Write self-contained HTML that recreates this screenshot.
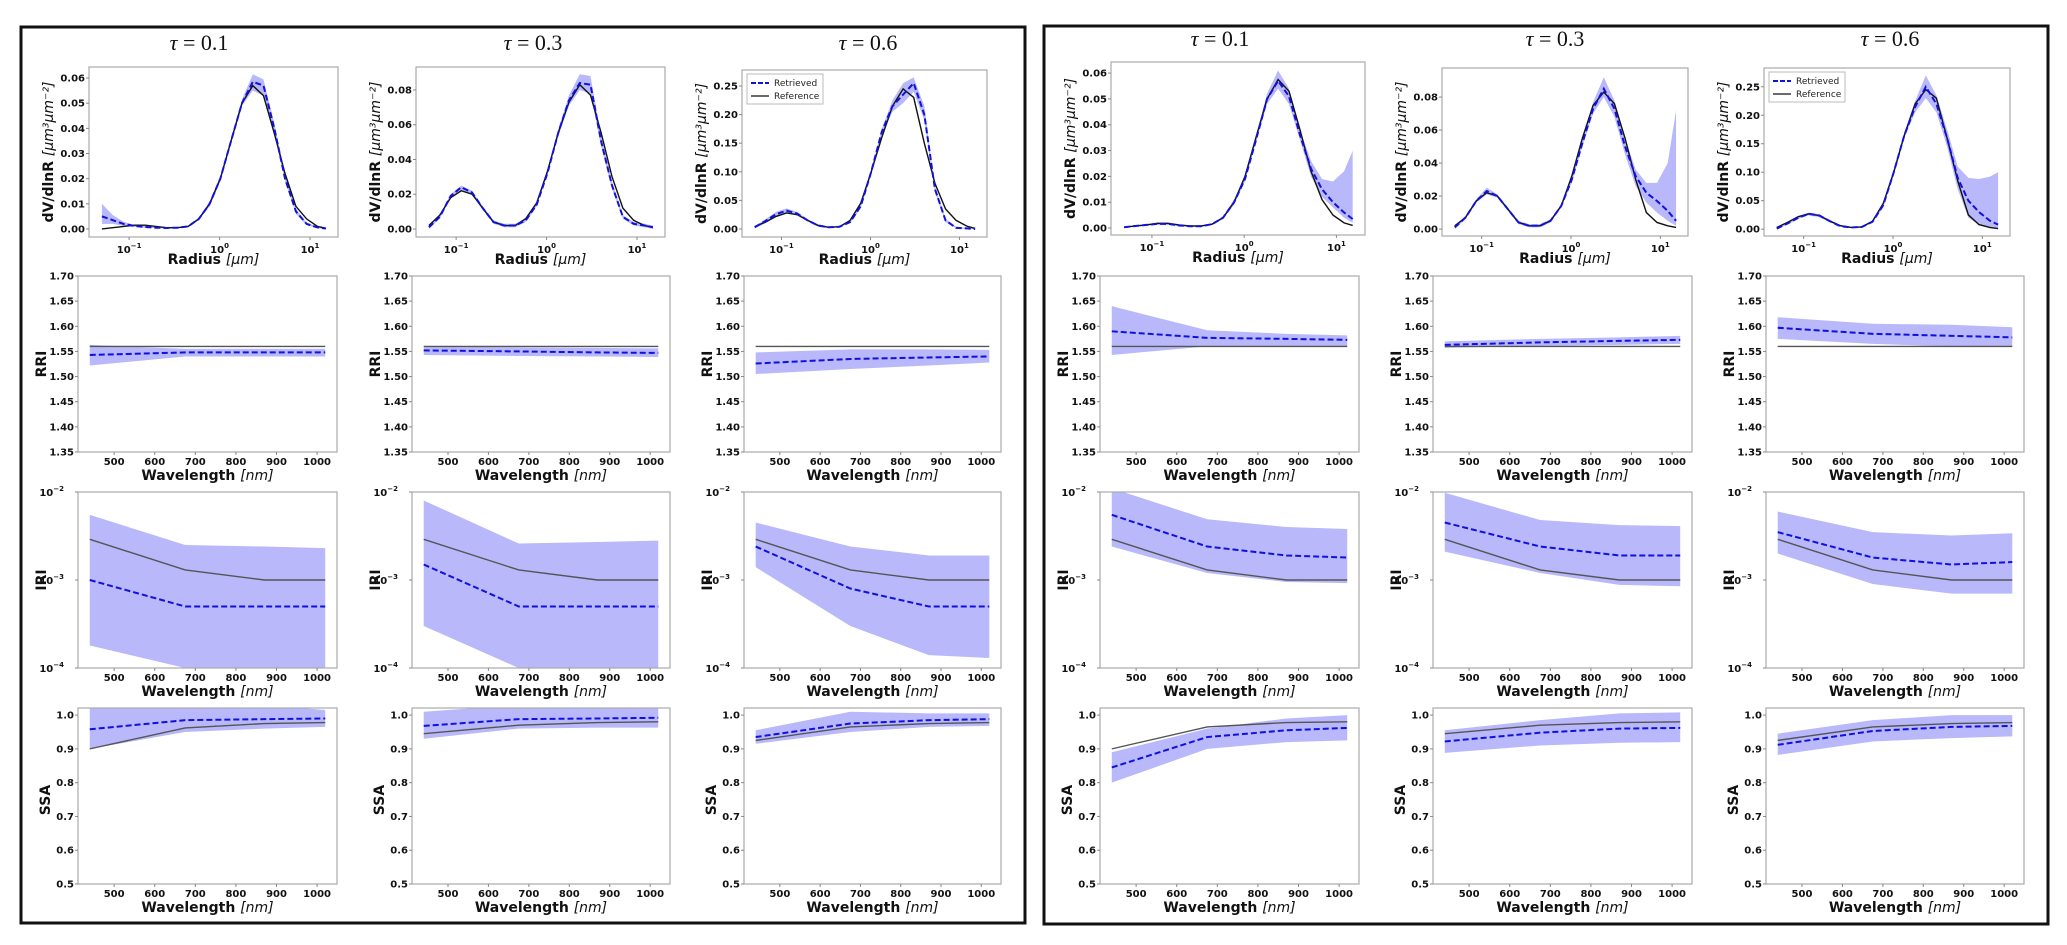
<!DOCTYPE html>
<html><head><meta charset="utf-8"><style>
html,body{margin:0;padding:0;background:#fff;}
svg{display:block;font-family:"DejaVu Sans","Liberation Sans",sans-serif;}
.tk{font-size:10px;font-weight:bold;fill:#111;}
.xl{font-size:14px;font-weight:bold;fill:#111;}
.yl{font-size:14px;font-weight:bold;fill:#111;}
.tt{font-family:"Liberation Serif",serif;font-size:22px;fill:#111;}
</style></head><body>
<svg id="fig" width="2067" height="945" viewBox="0 0 2067 945" xmlns="http://www.w3.org/2000/svg">
<rect x="0" y="0" width="2067" height="945" fill="#fff"/>
<rect x="21" y="27" width="1004" height="896" fill="none" stroke="#111" stroke-width="3"/>
<rect x="1044" y="26" width="1004" height="898" fill="none" stroke="#111" stroke-width="3"/>
</svg>
<script>
const radius=[0.050,0.066,0.087,0.114,0.150,0.197,0.259,0.341,0.449,0.590,0.777,1.02,1.34,1.77,2.33,3.06,4.03,5.30,6.98,9.18,12.1,15.0];
const wavelength=[440,675,870,1020];
const tauLabels=["0.1","0.3","0.6"];
const rriTicks=[1.35,1.40,1.45,1.50,1.55,1.60,1.65,1.70];
const ssaTicks=[0.5,0.6,0.7,0.8,0.9,1.0];
const wlTicks=[500,600,700,800,900,1000];

const psdRefL1=[0.000,0.0005,0.0010,0.0015,0.0015,0.0010,0.0005,0.0005,0.0010,0.0040,0.0100,0.0200,0.0350,0.0500,0.0570,0.0530,0.0380,0.0220,0.0090,0.0040,0.0010,0.0003];
const psdRetL1=[0.005,0.0035,0.0020,0.0012,0.0008,0.0005,0.0004,0.0005,0.0010,0.0040,0.0100,0.0200,0.0350,0.0500,0.0585,0.0570,0.0400,0.0200,0.0070,0.0020,0.0006,0.0002];
const psdLoL1=[0.002,0.002,0.0012,0.0008,0.0005,0.0003,0.0002,0.0003,0.0008,0.0035,0.0090,0.0190,0.0340,0.0490,0.0550,0.0530,0.0380,0.0190,0.0060,0.0015,0.0003,0.0000];
const psdHiL1=[0.010,0.0055,0.0028,0.0016,0.0011,0.0007,0.0006,0.0007,0.0013,0.0045,0.0110,0.0210,0.0360,0.0515,0.0615,0.0595,0.0420,0.0215,0.0080,0.0025,0.0009,0.0004];

const psdRefL2=[0.002,0.008,0.018,0.022,0.020,0.012,0.004,0.002,0.002,0.006,0.015,0.033,0.055,0.073,0.083,0.077,0.055,0.030,0.012,0.005,0.002,0.001];
const psdRetL2=[0.001,0.007,0.019,0.024,0.021,0.012,0.004,0.002,0.002,0.005,0.014,0.032,0.055,0.074,0.084,0.083,0.050,0.025,0.007,0.003,0.002,0.001];
const psdLoL2=[0.000,0.006,0.018,0.022,0.020,0.011,0.003,0.001,0.001,0.004,0.013,0.031,0.053,0.071,0.080,0.078,0.047,0.023,0.006,0.002,0.001,0.000];
const psdHiL2=[0.002,0.008,0.020,0.025,0.022,0.013,0.005,0.003,0.003,0.006,0.015,0.033,0.057,0.077,0.089,0.088,0.053,0.027,0.008,0.004,0.003,0.002];

const psdRefL3=[0.004,0.012,0.022,0.028,0.025,0.015,0.006,0.003,0.004,0.015,0.045,0.100,0.160,0.215,0.245,0.230,0.150,0.080,0.035,0.015,0.005,0.001];
const psdRetL3=[0.003,0.014,0.026,0.032,0.027,0.015,0.006,0.003,0.004,0.012,0.040,0.100,0.170,0.215,0.235,0.255,0.200,0.070,0.015,0.002,0.001,0.000];
const psdLoL3=[0.001,0.010,0.022,0.028,0.024,0.013,0.004,0.002,0.003,0.010,0.036,0.095,0.165,0.205,0.220,0.240,0.190,0.065,0.012,0.001,0.000,0.000];
const psdHiL3=[0.005,0.017,0.030,0.036,0.030,0.017,0.008,0.004,0.005,0.014,0.044,0.105,0.175,0.225,0.255,0.265,0.215,0.075,0.018,0.004,0.002,0.001];

const psdRefR1=[0.0003,0.0008,0.0012,0.0018,0.0018,0.0012,0.0008,0.0008,0.0015,0.0040,0.0100,0.0200,0.0350,0.0500,0.0575,0.0530,0.0380,0.0220,0.0110,0.0050,0.0020,0.0010];
const psdRetR1=[0.0003,0.0008,0.0012,0.0016,0.0016,0.0010,0.0007,0.0007,0.0015,0.0040,0.0100,0.0190,0.0340,0.0500,0.0570,0.0510,0.0360,0.0230,0.0150,0.0100,0.0060,0.0035];
const psdLoR1=[0.0001,0.0005,0.0009,0.0012,0.0012,0.0007,0.0004,0.0004,0.0012,0.0035,0.0090,0.0180,0.0330,0.0480,0.0540,0.0480,0.0340,0.0200,0.0120,0.0080,0.0040,0.0020];
const psdHiR1=[0.0005,0.0011,0.0015,0.0020,0.0020,0.0013,0.0010,0.0010,0.0018,0.0045,0.0110,0.0200,0.0355,0.0520,0.0610,0.0540,0.0380,0.0260,0.0190,0.0180,0.0220,0.0300];

const psdRefR2=[0.002,0.007,0.017,0.022,0.020,0.012,0.004,0.002,0.002,0.005,0.014,0.032,0.055,0.075,0.083,0.076,0.055,0.030,0.010,0.004,0.002,0.001];
const psdRetR2=[0.001,0.007,0.017,0.023,0.020,0.012,0.004,0.002,0.002,0.005,0.014,0.030,0.052,0.073,0.085,0.073,0.050,0.032,0.022,0.017,0.011,0.005];
const psdLoR2=[0.000,0.006,0.016,0.021,0.019,0.011,0.003,0.001,0.001,0.004,0.013,0.028,0.050,0.070,0.080,0.068,0.045,0.026,0.016,0.010,0.005,0.002];
const psdHiR2=[0.002,0.008,0.018,0.025,0.021,0.013,0.005,0.003,0.003,0.006,0.015,0.032,0.055,0.077,0.092,0.078,0.055,0.036,0.028,0.028,0.040,0.072];

const psdRefR3=[0.003,0.012,0.022,0.027,0.024,0.014,0.006,0.003,0.004,0.014,0.045,0.100,0.165,0.220,0.245,0.230,0.160,0.085,0.025,0.008,0.003,0.001];
const psdRetR3=[0.001,0.010,0.020,0.027,0.024,0.014,0.005,0.003,0.004,0.013,0.042,0.100,0.165,0.215,0.250,0.220,0.160,0.090,0.050,0.030,0.015,0.008];
const psdLoR3=[0.000,0.008,0.018,0.024,0.021,0.012,0.004,0.002,0.003,0.011,0.038,0.095,0.160,0.205,0.230,0.205,0.145,0.070,0.020,0.008,0.004,0.002];
const psdHiR3=[0.003,0.012,0.023,0.029,0.026,0.016,0.007,0.004,0.005,0.015,0.046,0.105,0.170,0.225,0.270,0.235,0.175,0.110,0.090,0.088,0.092,0.100];

const rriRefL1=[1.56,1.56,1.56,1.56], rriRetL1=[1.543,1.548,1.548,1.548], rriLoL1=[1.522,1.540,1.540,1.540], rriHiL1=[1.563,1.555,1.555,1.555];
const rriRefL2=[1.56,1.56,1.56,1.56], rriRetL2=[1.552,1.550,1.548,1.547], rriLoL2=[1.543,1.541,1.540,1.539], rriHiL2=[1.560,1.558,1.557,1.556];
const rriRefL3=[1.56,1.56,1.56,1.56], rriRetL3=[1.526,1.535,1.538,1.540], rriLoL3=[1.505,1.515,1.522,1.528], rriHiL3=[1.548,1.554,1.554,1.553];
const rriRefR1=[1.56,1.56,1.56,1.56], rriRetR1=[1.590,1.577,1.575,1.573], rriLoR1=[1.543,1.560,1.560,1.560], rriHiR1=[1.640,1.592,1.585,1.582];
const rriRefR2=[1.56,1.56,1.56,1.56], rriRetR2=[1.563,1.568,1.571,1.573], rriLoR2=[1.557,1.561,1.563,1.565], rriHiR2=[1.570,1.575,1.578,1.581];
const rriRefR3=[1.56,1.56,1.56,1.56], rriRetR3=[1.597,1.585,1.581,1.578], rriLoR3=[1.575,1.565,1.560,1.560], rriHiR3=[1.618,1.605,1.603,1.598];

const iriRef=[0.0029,0.0013,0.001,0.001];
const iriRetL1=[0.001,0.0005,0.0005,0.0005], iriLoL1=[0.00018,0.0001,0.0001,0.0001], iriHiL1=[0.0055,0.0025,0.0024,0.0023];
const iriRetL2=[0.0015,0.0005,0.0005,0.0005], iriLoL2=[0.0003,0.0001,0.0001,0.0001], iriHiL2=[0.008,0.0026,0.0027,0.0028];
const iriRetL3=[0.0024,0.0008,0.0005,0.0005], iriLoL3=[0.0014,0.0003,0.00014,0.00013], iriHiL3=[0.0045,0.0024,0.0019,0.0019];
const iriRetR1=[0.0055,0.0024,0.0019,0.0018], iriLoR1=[0.0024,0.0012,0.00095,0.00092], iriHiR1=[0.011,0.0049,0.004,0.0038];
const iriRetR2=[0.0045,0.0024,0.0019,0.0019], iriLoR2=[0.0021,0.0012,0.00088,0.00085], iriHiR2=[0.0098,0.0048,0.0042,0.0041];
const iriRetR3=[0.0035,0.0018,0.0015,0.0016], iriLoR3=[0.002,0.0009,0.0007,0.0007], iriHiR3=[0.006,0.0035,0.0032,0.0034];

const ssaRefL1=[0.90,0.962,0.975,0.978], ssaRetL1=[0.958,0.985,0.988,0.990], ssaLoL1=[0.90,0.95,0.96,0.965], ssaHiL1=[1.03,1.03,1.03,1.015];
const ssaRefL2=[0.945,0.970,0.978,0.980], ssaRetL2=[0.968,0.988,0.990,0.992], ssaLoL2=[0.93,0.96,0.963,0.963], ssaHiL2=[1.01,1.03,1.03,1.02];
const ssaRefL3=[0.925,0.965,0.975,0.978], ssaRetL3=[0.935,0.975,0.985,0.988], ssaLoL3=[0.915,0.95,0.965,0.968], ssaHiL3=[0.955,1.01,1.005,1.005];
const ssaRefR1=[0.90,0.965,0.978,0.980], ssaRetR1=[0.845,0.935,0.955,0.962], ssaLoR1=[0.80,0.90,0.92,0.925], ssaHiR1=[0.89,0.96,0.99,1.0];
const ssaRefR2=[0.945,0.970,0.978,0.980], ssaRetR2=[0.922,0.948,0.960,0.962], ssaLoR2=[0.888,0.91,0.918,0.92], ssaHiR2=[0.955,0.985,1.005,1.008];
const ssaRefR3=[0.925,0.965,0.975,0.978], ssaRetR3=[0.912,0.953,0.965,0.968], ssaLoR3=[0.882,0.922,0.932,0.937], ssaHiR3=[0.945,0.985,1.0,1.0];

const NS="http://www.w3.org/2000/svg";
const svg=document.getElementById('fig');
let clipN=0;
function el(tag,attrs,parent,txt){const e=document.createElementNS(NS,tag);for(const k in attrs)e.setAttribute(k,attrs[k]);if(txt!==undefined)e.textContent=txt;(parent||svg).appendChild(e);return e;}
function supText(x,y,base,exp,anchor,cls,parent){const t=el('text',{x:x,y:y,'text-anchor':anchor,class:cls},parent);const a=el('tspan',{},t,base);const b=el('tspan',{dy:-5,'font-size':'7px'},t,exp);return t;}

function panel(box,xs,ys,o){
  const g=el('g',{});
  
  
  const id='c'+(clipN++);
  const cp=el('clipPath',{id:id},g);el('rect',{x:box[0],y:box[2],width:box[1]-box[0],height:box[3]-box[2]},cp);
  const pg=el('g',{'clip-path':'url(#'+id+')'},g);
  const X=xs, Y=ys;
  const band=o.x.map((v,i)=>X(v)+','+Y(o.hi[i])).concat(o.x.map((v,i)=>X(v)+','+Y(o.lo[i])).reverse());
  const bd=el('polygon',{points:band.join(' '),fill:'#b8b8fb',stroke:'none'},pg);
  
  
  const rf=el('polyline',{points:o.x.map((v,i)=>X(v)+','+Y(o.ref[i])).join(' '),fill:'none',stroke:o.refColor,'stroke-width':1.4},pg);
  
  
  const rt=el('polyline',{points:o.x.map((v,i)=>X(v)+','+Y(o.ret[i])).join(' '),fill:'none',stroke:'#1010e0','stroke-width':2,'stroke-dasharray':'6,3'},pg);
  
  
  el('rect',{x:box[0],y:box[2],width:box[1]-box[0],height:box[3]-box[2],fill:'none',stroke:'#aaa','stroke-width':1.2},g);
  return g;
}
function linScale(d0,d1,r0,r1){return v=>r0+(v-d0)/(d1-d0)*(r1-r0);}
function logScale(d0,d1,r0,r1){return v=>r0+(Math.log10(v)-Math.log10(d0))/(Math.log10(d1)-Math.log10(d0))*(r1-r0);}

const topBoxes=[[89,338,67,237],[416,665,67,237],[742,987,70,237],[1111,1365,62,235],[1442,1688,68,236],[1764,2010,68,236]];
const wlCols=[[78,337],[412,670],[744,1001],[1100,1359],[1433,1692],[1766,2024]];
const titleX=[199,533,868,1220,1555,1890];
const titleY=[50,50,50,46,46,46];
const psdYlim=[[-0.0032,0.0644],[-0.0046,0.0932],[-0.014,0.278],[-0.0027,0.0643],[-0.0042,0.0976],[-0.012,0.283]];
const psdTicks=[[0,0.01,0.02,0.03,0.04,0.05,0.06],[0,0.02,0.04,0.06,0.08],[0,0.05,0.10,0.15,0.20,0.25],[0,0.01,0.02,0.03,0.04,0.05,0.06],[0,0.02,0.04,0.06,0.08],[0,0.05,0.10,0.15,0.20,0.25]];
const psdSets=[[psdRefL1,psdRetL1,psdLoL1,psdHiL1],[psdRefL2,psdRetL2,psdLoL2,psdHiL2],[psdRefL3,psdRetL3,psdLoL3,psdHiL3],[psdRefR1,psdRetR1,psdLoR1,psdHiR1],[psdRefR2,psdRetR2,psdLoR2,psdHiR2],[psdRefR3,psdRetR3,psdLoR3,psdHiR3]];
const rriSets=[[rriRefL1,rriRetL1,rriLoL1,rriHiL1],[rriRefL2,rriRetL2,rriLoL2,rriHiL2],[rriRefL3,rriRetL3,rriLoL3,rriHiL3],[rriRefR1,rriRetR1,rriLoR1,rriHiR1],[rriRefR2,rriRetR2,rriLoR2,rriHiR2],[rriRefR3,rriRetR3,rriLoR3,rriHiR3]];
const iriSets=[[iriRetL1,iriLoL1,iriHiL1],[iriRetL2,iriLoL2,iriHiL2],[iriRetL3,iriLoL3,iriHiL3],[iriRetR1,iriLoR1,iriHiR1],[iriRetR2,iriLoR2,iriHiR2],[iriRetR3,iriLoR3,iriHiR3]];
const ssaSets=[[ssaRefL1,ssaRetL1,ssaLoL1,ssaHiL1],[ssaRefL2,ssaRetL2,ssaLoL2,ssaHiL2],[ssaRefL3,ssaRetL3,ssaLoL3,ssaHiL3],[ssaRefR1,ssaRetR1,ssaLoR1,ssaHiR1],[ssaRefR2,ssaRetR2,ssaLoR2,ssaHiR2],[ssaRefR3,ssaRetR3,ssaLoR3,ssaHiR3]];

function yTicks(g,box,Y,ticks,fmt){ticks.forEach(t=>{const y=Y(t);el('line',{x1:box[0]-3,x2:box[0],y1:y,y2:y,stroke:'#888'},g);el('text',{x:box[0]-4,y:y+3.5,'text-anchor':'end',class:'tk'},g,fmt(t));});}
function wlXTicks(g,box,X){wlTicks.forEach(t=>{const x=X(t);el('line',{x1:x,x2:x,y1:box[3],y2:box[3]+3,stroke:'#888'},g);el('text',{x:x,y:box[3]+13,'text-anchor':'middle',class:'tk'},g,String(t));});
  const t=el('text',{x:(box[0]+box[1])/2,y:box[3]+28,'text-anchor':'middle',class:'xl'},g);el('tspan',{},t,'Wavelength  ');el('tspan',{'font-weight':'normal','font-style':'italic'},t,'[nm]');}
function yLabel(g,x,y,txt,size){const t=el('text',{x:x,y:y,'text-anchor':'middle',class:'yl',transform:'rotate(-90 '+x+' '+y+')','font-size':size||'14px'},g,txt);return t;}

for(let c=0;c<6;c++){
  // title
  const tt=el('text',{x:titleX[c],y:titleY[c],'text-anchor':'middle',class:'tt'});
  
  
  el('tspan',{'font-style':'italic'},tt,'τ');el('tspan',{},tt,' = '+tauLabels[c%3]);
  // PSD panel
  const tb=topBoxes[c];
  const X=logScale(0.036,20.4,tb[0],tb[1]);
  const Y=linScale(psdYlim[c][0],psdYlim[c][1],tb[3],tb[2]);
  const s=psdSets[c];
  const g=panel(tb,X,Y,{name:'size-distribution-panel',x:radius,ref:s[0],ret:s[1],lo:s[2],hi:s[3],refColor:'#111'});
  yTicks(g,tb,Y,psdTicks[c],t=>t.toFixed(2));
  [[0.1,'−1'],[1,'0'],[10,'1']].forEach(d=>{const x=X(d[0]);el('line',{x1:x,x2:x,y1:tb[3],y2:tb[3]+3,stroke:'#888'},g);supText(x,tb[3]+16,'10',d[1],'middle','tk',g);});
  const xl=el('text',{x:(tb[0]+tb[1])/2,y:tb[3]+27,'text-anchor':'middle',class:'xl','font-size':'12px'},g);el('tspan',{},xl,'Radius  ');el('tspan',{'font-weight':'normal','font-style':'italic'},xl,'[μm]');
  const yx=tb[0]-36, yy=(tb[2]+tb[3])/2;
  const yt=el('text',{x:yx,y:yy,'text-anchor':'middle',class:'yl','font-size':'11px',transform:'rotate(-90 '+yx+' '+yy+')'},g);
  el('tspan',{},yt,'dV/dlnR ');el('tspan',{'font-weight':'normal','font-style':'italic'},yt,'[μm³μm⁻²]');
  if(c%3===2){
    const lg=el('g',{},g);
    
    
    const lx=tb[0]+5, ly=tb[2]+4;
    el('rect',{x:lx,y:ly,width:76,height:30,fill:'#fff',stroke:'#bbb'},lg);
    el('line',{x1:lx+4,x2:lx+22,y1:ly+9,y2:ly+9,stroke:'#1010e0','stroke-width':2,'stroke-dasharray':'5,2'},lg);
    el('text',{x:lx+27,y:ly+12,'font-size':'9px',fill:'#222'},lg,'Retrieved');
    el('line',{x1:lx+4,x2:lx+22,y1:ly+22,y2:ly+22,stroke:'#111','stroke-width':1.3},lg);
    el('text',{x:lx+27,y:ly+25,'font-size':'9px',fill:'#222'},lg,'Reference');
  }
  const wc=wlCols[c];
  const XW=linScale(411,1049,wc[0],wc[1]);
  // RRI
  const rb=[wc[0],wc[1],276,452];
  const YR=linScale(1.35,1.70,452,276);
  const r=rriSets[c];
  const g2=panel(rb,XW,YR,{name:'rri-panel',x:wavelength,ref:r[0],ret:r[1],lo:r[2],hi:r[3],refColor:'#555'});
  yTicks(g2,rb,YR,rriTicks,t=>t.toFixed(2));wlXTicks(g2,rb,XW);yLabel(g2,rb[0]-32,364,'RRI');
  // IRI
  const ib=[wc[0],wc[1],492,668];
  const YI=logScale(1e-4,1e-2,668,492);
  const iv=iriSets[c];
  const g3=panel(ib,XW,YI,{name:'iri-panel',x:wavelength,ref:iriRef,ret:iv[0],lo:iv[1],hi:iv[2],refColor:'#555'});
  [[1e-4,'−4'],[1e-3,'−3'],[1e-2,'−2']].forEach(d=>{const y=YI(d[0]);el('line',{x1:ib[0]-3,x2:ib[0],y1:y,y2:y,stroke:'#888'},g3);supText(ib[0]-14,y+4,'10',d[1],'end','tk',g3);});
  wlXTicks(g3,ib,XW);yLabel(g3,ib[0]-32,580,'IRI');
  // SSA
  const sb=[wc[0],wc[1],708,884];
  const YS=linScale(0.5,1.021,884,708);
  const sv=ssaSets[c];
  const g4=panel(sb,XW,YS,{name:'ssa-panel',x:wavelength,ref:sv[0],ret:sv[1],lo:sv[2],hi:sv[3],refColor:'#555'});
  yTicks(g4,sb,YS,ssaTicks,t=>t.toFixed(1));wlXTicks(g4,sb,XW);yLabel(g4,sb[0]-28,800,'SSA');
}
</script>
</body></html>
